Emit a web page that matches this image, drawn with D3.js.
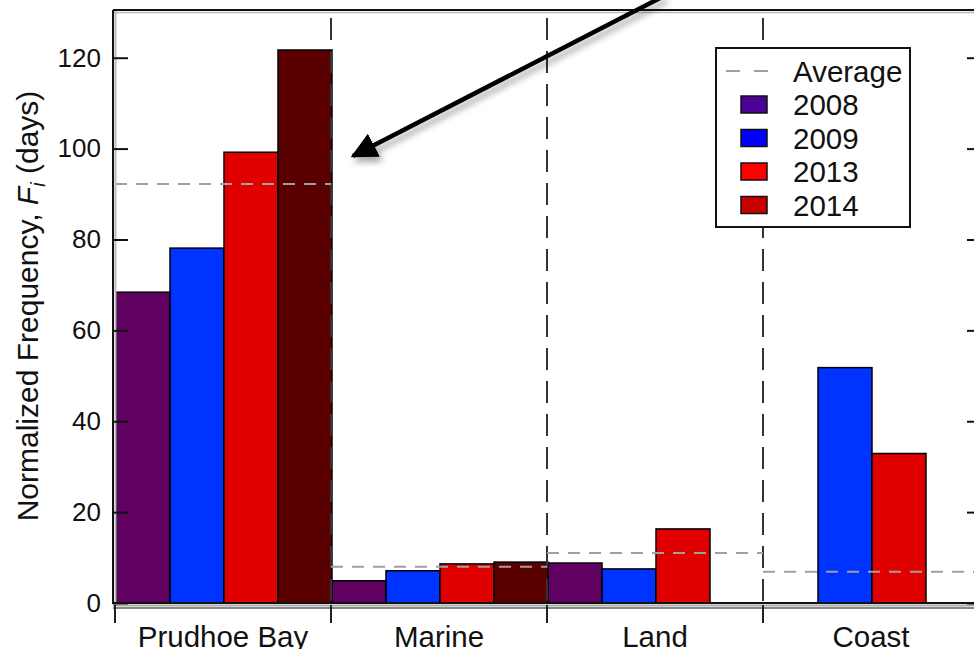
<!DOCTYPE html>
<html>
<head>
<meta charset="utf-8">
<script src="https://cdn.jsdelivr.net/npm/d3@7"></script>
<style>
  html, body { margin: 0; padding: 0; background: #fff; }
  svg { display: block; font-family: Arial, "Liberation Sans", Helvetica, sans-serif; }
</style>
</head>
<body>
<svg id="chart" width="974" height="649"></svg>
<script>
// Regions and years
const regions = ["Prudhoe Bay", "Marine", "Land", "Coast"];
const years = ["2008", "2009", "2013", "2014"];

// Normalized frequency (days) per region, one array per year (null = no bar)
const values2008 = [68.4, 4.9, 8.8, null];
const values2009 = [78.1, 7.1, 7.5, 51.8];
const values2013 = [99.2, 8.6, 16.3, 32.9];
const values2014 = [121.7, 9.0, null, null];

// Average over years for each region
const averages = [92.2, 8.0, 11.0, 6.9];

// Axis ticks
const yTicks = [0, 20, 40, 60, 80, 100, 120];

const barColors = {"2008": "#600060", "2009": "#0033ff", "2013": "#e00000", "2014": "#5a0000"};
const legendColors = {"2008": "#4b0096", "2009": "#0000ff", "2013": "#ff0000", "2014": "#c80000"};

const seriesValues = {"2008": values2008, "2009": values2009, "2013": values2013, "2014": values2014};

const svg = d3.select("#chart");

const plotLeft = 113, plotTop = 10, plotRight = 979, plotBottom = 603;

const x = d3.scaleBand().domain(regions).range([115, 979]).padding(0);
const xi = d3.scaleBand().domain(years).range([0, x.bandwidth()]).padding(0);
const y = d3.scaleLinear().domain([0, 130.5]).range([plotBottom, plotTop]);

// Drop shadow for the annotation arrow
const defs = svg.append("defs");
const f = defs.append("filter").attr("id", "shadow").attr("x", "-20%").attr("y", "-20%").attr("width", "140%").attr("height", "140%");
f.append("feDropShadow").attr("dx", 3).attr("dy", 5).attr("stdDeviation", 3).attr("flood-color", "#000").attr("flood-opacity", 0.35);
defs.append("marker").attr("id", "head")
  .attr("viewBox", "0 0 10 10").attr("refX", 9).attr("refY", 5)
  .attr("markerWidth", 5.8).attr("markerHeight", 5.8).attr("markerUnits", "strokeWidth")
  .attr("orient", "auto")
  .append("path").attr("d", "M0,0 L10,5 L0,10 z").attr("fill", "#000");

// Bars
const barData = [];
regions.forEach((r, i) => {
  years.forEach(yr => {
    const v = seriesValues[yr][i];
    if (v != null) barData.push({region: r, year: yr, value: v});
  });
});

svg.append("g").selectAll("rect").data(barData).join("rect")
  .attr("x", d => x(d.region) + xi(d.year) + 1)
  .attr("y", d => y(d.value))
  .attr("width", xi.bandwidth())
  .attr("height", d => y(0) - y(d.value))
  .attr("fill", d => barColors[d.year])
  .attr("stroke", "#000")
  .attr("stroke-width", 1.5);

// Region separators (long dashes)
svg.append("g").selectAll("line").data(regions.slice(1)).join("line")
  .attr("x1", d => x(d)).attr("x2", d => x(d))
  .attr("y1", 18).attr("y2", plotBottom)
  .attr("stroke", "#333").attr("stroke-width", 2)
  .attr("stroke-dasharray", "22,11");

// Average lines per region
svg.append("g").selectAll("line").data(regions).join("line")
  .attr("x1", d => x(d)).attr("x2", d => x(d) + x.bandwidth())
  .attr("y1", (d, i) => y(averages[i])).attr("y2", (d, i) => y(averages[i]))
  .attr("stroke", "#a0a0a0").attr("stroke-width", 2)
  .attr("stroke-dasharray", "12,9");

// Frame: dark line with a grey inner line
const frame = svg.append("g");
frame.append("line").attr("x1", plotLeft + 2.5).attr("x2", plotLeft + 2.5).attr("y1", plotTop).attr("y2", plotBottom).attr("stroke", "#bbb").attr("stroke-width", 2);
frame.append("line").attr("x1", plotLeft).attr("x2", plotRight).attr("y1", plotBottom + 2.5).attr("y2", plotBottom + 2.5).attr("stroke", "#aaa").attr("stroke-width", 2);
frame.append("line").attr("x1", plotLeft).attr("x2", plotRight).attr("y1", plotTop + 2.5).attr("y2", plotTop + 2.5).attr("stroke", "#bbb").attr("stroke-width", 1.5);
frame.append("line").attr("x1", plotLeft).attr("x2", plotLeft).attr("y1", plotTop).attr("y2", plotBottom + 1).attr("stroke", "#111").attr("stroke-width", 2);
frame.append("line").attr("x1", plotLeft).attr("x2", plotRight).attr("y1", plotBottom).attr("y2", plotBottom).attr("stroke", "#111").attr("stroke-width", 2);
frame.append("line").attr("x1", plotLeft).attr("x2", plotRight).attr("y1", plotTop).attr("y2", plotTop).attr("stroke", "#111").attr("stroke-width", 2);
frame.append("line").attr("x1", plotLeft).attr("x2", plotRight).attr("y1", plotBottom + 5).attr("y2", plotBottom + 5).attr("stroke", "#111").attr("stroke-width", 1);

// Left axis with inward ticks
const yAxis = d3.axisLeft(y).tickValues(yTicks).tickSize(-15).tickPadding(12).tickFormat(d3.format("d"));
const gy = svg.append("g").attr("transform", `translate(${plotLeft},0)`).call(yAxis);
gy.attr("font-size", null).attr("font-family", null);
gy.select(".domain").remove();
gy.selectAll(".tick line").attr("stroke", "#111").attr("stroke-width", 2);
gy.selectAll(".tick text")
  .style("font-size", "26px")
  .style("font-family", "Arial, 'Liberation Sans', sans-serif")
  .attr("fill", "#111");

// Right axis with inward ticks
const yAxisR = d3.axisRight(y).tickValues(yTicks).tickSize(-12).tickFormat("");
const gyr = svg.append("g").attr("transform", `translate(${plotRight},0)`).call(yAxisR);
gyr.select(".domain").remove();
gyr.selectAll(".tick line").attr("stroke", "#111").attr("stroke-width", 2);

// Bottom ticks at region boundaries, hanging below the axis
svg.append("g").selectAll("line").data(regions).join("line")
  .attr("x1", d => x(d)).attr("x2", d => x(d))
  .attr("y1", plotBottom + 2).attr("y2", 623)
  .attr("stroke", "#222").attr("stroke-width", 2);

// Region labels
svg.append("g").selectAll("text").data(regions).join("text")
  .attr("x", d => x(d) + x.bandwidth() / 2)
  .attr("y", 647)
  .attr("text-anchor", "middle")
  .style("font-size", "29.5px")
  .attr("fill", "#111")
  .text(d => d);

// Y axis title
const yt = svg.append("text")
  .attr("transform", "translate(38,306) rotate(-90)")
  .attr("text-anchor", "middle")
  .style("font-size", "30px")
  .attr("fill", "#111");
yt.append("tspan").text("Normalized Frequency, ");
yt.append("tspan").attr("font-style", "italic").text("F");
yt.append("tspan").attr("font-style", "italic").style("font-size", "20px").attr("dy", 7).text("i");
yt.append("tspan").attr("dy", -7).text(" (days)");

// Legend
const lg = svg.append("g");
lg.append("rect").attr("x", 716).attr("y", 48).attr("width", 194).attr("height", 179)
  .attr("fill", "#fff").attr("stroke", "#111").attr("stroke-width", 2);
const rowY = d3.scalePoint().domain(["Average"].concat(years)).range([71, 205]);
lg.append("line").attr("x1", 726).attr("x2", 768).attr("y1", rowY("Average")).attr("y2", rowY("Average"))
  .attr("stroke", "#a0a0a0").attr("stroke-width", 2).attr("stroke-dasharray", "14,14");
lg.selectAll("rect.sw").data(years).join("rect").attr("class", "sw")
  .attr("x", 741).attr("y", d => rowY(d) - 8.5).attr("width", 26).attr("height", 17)
  .attr("fill", d => legendColors[d]).attr("stroke", "#111").attr("stroke-width", 1.5);
lg.selectAll("text").data(["Average"].concat(years)).join("text")
  .attr("x", 793).attr("y", d => rowY(d) + 10.5)
  .style("font-size", "29.5px").attr("fill", "#111")
  .text(d => d);

// Annotation arrow pointing at the 2014 Prudhoe Bay bar
svg.append("line")
  .attr("x1", 664).attr("y1", -4).attr("x2", 353).attr("y2", 156)
  .attr("stroke", "#000").attr("stroke-width", 4.5)
  .attr("marker-end", "url(#head)")
  .attr("filter", "url(#shadow)");
</script>
</body>
</html>
